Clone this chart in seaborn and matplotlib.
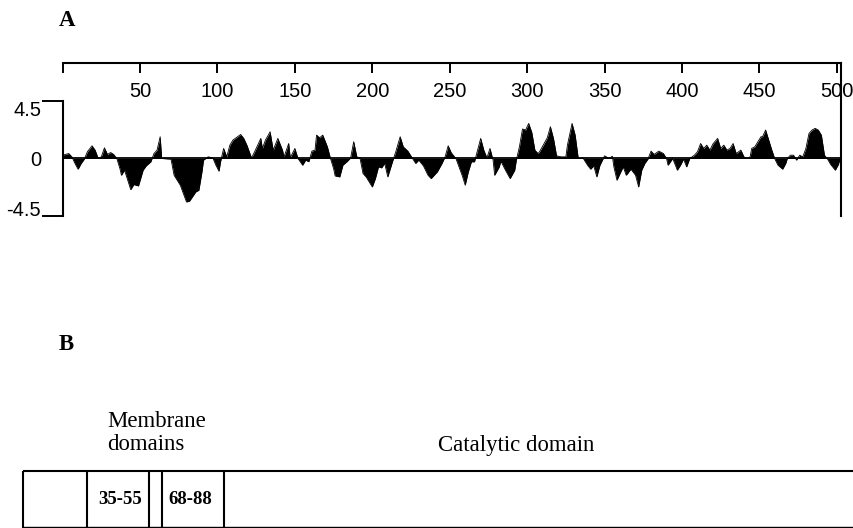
import numpy as np
import pandas as pd
import seaborn as sns
import matplotlib.pyplot as plt

# hydropathy profile (residue number, score)
residue = [0, 4, 6, 8, 10, 12, 14, 16, 19, 21,
           23, 25, 27, 29, 31, 33, 35, 37, 38, 40,
           44, 46, 49, 52, 54, 57, 59, 61, 63, 64,
           70, 72, 76, 80, 82, 86, 88, 90, 91, 94,
           97, 99, 101, 102, 104, 106, 108, 110, 115, 117,
           119, 121, 122, 124, 128, 129, 131, 134, 136, 139,
           142, 143, 146, 147, 150, 152, 155, 157, 159, 161,
           163, 164, 166, 168, 171, 173, 175, 176, 179, 181,
           184, 186, 188, 190, 192, 194, 196, 200, 202, 204,
           206, 208, 210, 213, 215, 218, 220, 223, 226, 228,
           230, 233, 236, 238, 242, 245, 247, 249, 251, 254,
           256, 258, 260, 262, 264, 266, 268, 270, 272, 274,
           276, 278, 279, 282, 283, 286, 289, 292, 293, 295,
           297, 299, 301, 303, 305, 307, 308, 311, 313, 315,
           317, 319, 322, 325, 326, 329, 331, 333, 336, 339,
           341, 343, 345, 347, 350, 353, 355, 356, 358, 360,
           362, 364, 367, 370, 372, 374, 376, 378, 380, 382,
           385, 388, 390, 391, 394, 397, 399, 401, 403, 405,
           408, 410, 412, 414, 416, 418, 420, 423, 425, 427,
           429, 431, 433, 435, 438, 440, 442, 444, 445, 447,
           451, 452, 454, 456, 458, 460, 462, 465, 467, 468,
           470, 472, 474, 476, 478, 480, 482, 484, 486, 488,
           490, 492, 494, 496, 499, 501, 502]
hydropathy = [0.26, 0.39, 0.13, -0.39, -0.84, -0.39, -0.05, 0.53, 1.0, 0.66,
              0.0, 0.13, 0.84, 0.32, 0.47, 0.32, 0.0, -0.79, -1.32, -0.92,
              -2.45, -2.05, -2.16, -0.92, -0.58, -0.26, 0.39, 0.66, 1.71, 0.0,
              -0.05, -1.32, -2.1, -3.42, -3.35, -2.63, -2.5, -1.05, -0.13, 0.13,
              0.05, -0.53, -1.0, -0.26, 0.79, 0.13, 1.05, 1.45, 1.89, 1.58,
              1.05, 0.39, 0.05, 0.53, 1.58, 0.79, 1.45, 2.1, 0.66, 1.58,
              0.66, 0.13, 1.18, 0.05, 0.79, 0.0, -0.53, -0.13, -0.26, 0.58,
              0.66, 1.84, 1.63, 1.84, 0.92, 0.0, -0.79, -1.37, -1.45, -0.53,
              -0.21, 0.05, 1.32, 0.13, 0.05, -1.18, -1.45, -2.24, -1.58, -0.66,
              -0.74, -0.39, -1.45, -0.26, 0.47, 1.71, 0.92, 0.58, 0.0, -0.39,
              -0.13, -0.58, -1.32, -1.58, -1.05, -0.39, 0.13, 1.0, 0.45, 0.0,
              -0.66, -1.32, -2.1, -1.05, -0.26, -0.26, 0.66, 1.58, 0.66, 0.05,
              0.79, -0.13, -1.32, -0.66, -0.21, -0.92, -1.58, -0.92, -0.13, 0.92,
              2.32, 2.24, 2.76, 2.05, 0.66, 0.39, 0.53, 1.18, 1.63, 2.5,
              1.58, 0.21, 0.13, 0.13, 1.05, 2.76, 1.84, 0.0, 0.05, -0.53,
              -0.84, -0.58, -1.45, -0.53, 0.21, 0.0, 0.18, -0.66, -1.71, -1.18,
              -0.66, -1.32, -0.84, -1.32, -2.24, -0.92, -0.39, -0.05, 0.58, 0.32,
              0.58, 0.39, 0.0, -0.53, 0.0, -0.92, -0.53, -0.05, -0.66, 0.0,
              0.26, 0.53, 1.18, 0.79, 1.05, 0.66, 1.15, 1.58, 0.79, 1.05,
              0.66, 0.79, 1.18, 0.39, 0.66, 0.13, 0.0, 0.13, 0.79, 0.92,
              1.71, 1.71, 2.24, 1.45, 0.66, -0.05, -0.53, -0.84, -0.39, 0.0,
              0.26, 0.26, -0.13, 0.26, 0.13, 0.79, 1.97, 2.24, 2.37, 2.24,
              1.84, 0.26, -0.05, -0.47, -0.92, -0.47, -0.05]

seq_ticks = [0, 50, 100, 150, 200, 250, 300, 350, 400, 450, 500]
seq_labels = [''] + [str(t) for t in seq_ticks[1:]]
score_ticks = [-4.5, 0, 4.5]
score_labels = ['-4.5', '0', '4.5']

# panel B schematic (box edges, in picture pixels)
box_edges = [23, 87, 149, 162, 224]
box_labels = ['35-55', '68-88']
box_label_x = [120.5, 190]

df = pd.DataFrame({'residue': residue, 'score': hydropathy})

sns.set_theme(style='white')
plt.rcParams['font.family'] = ['Liberation Sans', 'DejaVu Sans']
plt.rcParams['text.color'] = 'black'
plt.rcParams['xtick.color'] = 'black'
plt.rcParams['ytick.color'] = 'black'
plt.rcParams['xtick.labelcolor'] = 'black'
plt.rcParams['ytick.labelcolor'] = 'black'

fig = plt.figure(figsize=(8.54, 5.28), dpi=100)

# ---- panel A
ax = fig.add_axes([62.6 / 854, 1 - 215.7 / 528, 778.9 / 854, 152.7 / 528])
ax.fill_between(df['residue'], df['score'], 0, color='black', lw=0)
sns.lineplot(data=df, x='residue', y='score', ax=ax, color='black', lw=0.6)
ax.axhline(0, color='black', lw=1.3)
ax.set_xlim(0, 503)
ax.set_ylim(-4.5, 7.51)
ax.set_xlabel('')
ax.set_ylabel('')

for s in ['left', 'top', 'right']:
    ax.spines[s].set_visible(True)
    ax.spines[s].set_color('black')
    ax.spines[s].set_linewidth(1.5)
ax.spines['bottom'].set_visible(False)
ax.spines['left'].set_bounds(-4.5, 4.5)

ax.set_xticks(seq_ticks)
ax.set_xticklabels(seq_labels)
ax.tick_params(axis='x', bottom=False, labelbottom=False, top=True, labeltop=True,
               direction='in', length=7, width=1.4, color='black',
               pad=-13.5, labelsize=14.5, labelcolor='black')
for lab in ax.xaxis.get_majorticklabels():
    lab.set_verticalalignment('top')

ax.set_yticks(score_ticks)
ax.set_yticklabels(score_labels)
ax.tick_params(axis='y', left=True, right=False, direction='out', length=15,
               width=1.4, color='black', pad=0.5, labelsize=14.5, labelcolor='black')
ax.yaxis.get_major_ticks()[1].tick1line.set_visible(False)
ylabs = ax.get_yticklabels()
ylabs[0].set_verticalalignment('baseline')
ylabs[2].set_verticalalignment('top')

# ---- panel B and panel letters
axb = fig.add_axes([0, 0, 1, 1], zorder=-1)
axb.set_xlim(0, 854)
axb.set_ylim(528, 0)
axb.axis('off')

serif = ['Liberation Serif', 'DejaVu Serif']
axb.text(59, 26, 'A', family=serif, fontweight='bold', fontsize=16.5,
         va='baseline', color='black')
axb.text(59, 350.5, 'B', family=serif, fontweight='bold', fontsize=16.5,
         va='baseline', color='black')

axb.hlines(471, box_edges[0], 854, color='black', lw=1.5)
axb.hlines(527, box_edges[0], 854, color='black', lw=1.0)
axb.vlines(box_edges, 471, 528, color='black', lw=1.5)

for lab, x in zip(box_labels, box_label_x):
    axb.text(x, 503.5, lab, family=serif, fontweight='bold', fontsize=13.5,
             ha='center', va='baseline', color='black')

axb.text(107, 426.7, 'Membrane', family=serif, fontsize=16.4, va='baseline', color='black')
axb.text(107, 450, 'domains', family=serif, fontsize=16.4, va='baseline', color='black')
axb.text(438, 451, 'Catalytic domain', family=serif, fontsize=16.4, va='baseline', color='black')

fig.savefig('out.png', dpi=100)
